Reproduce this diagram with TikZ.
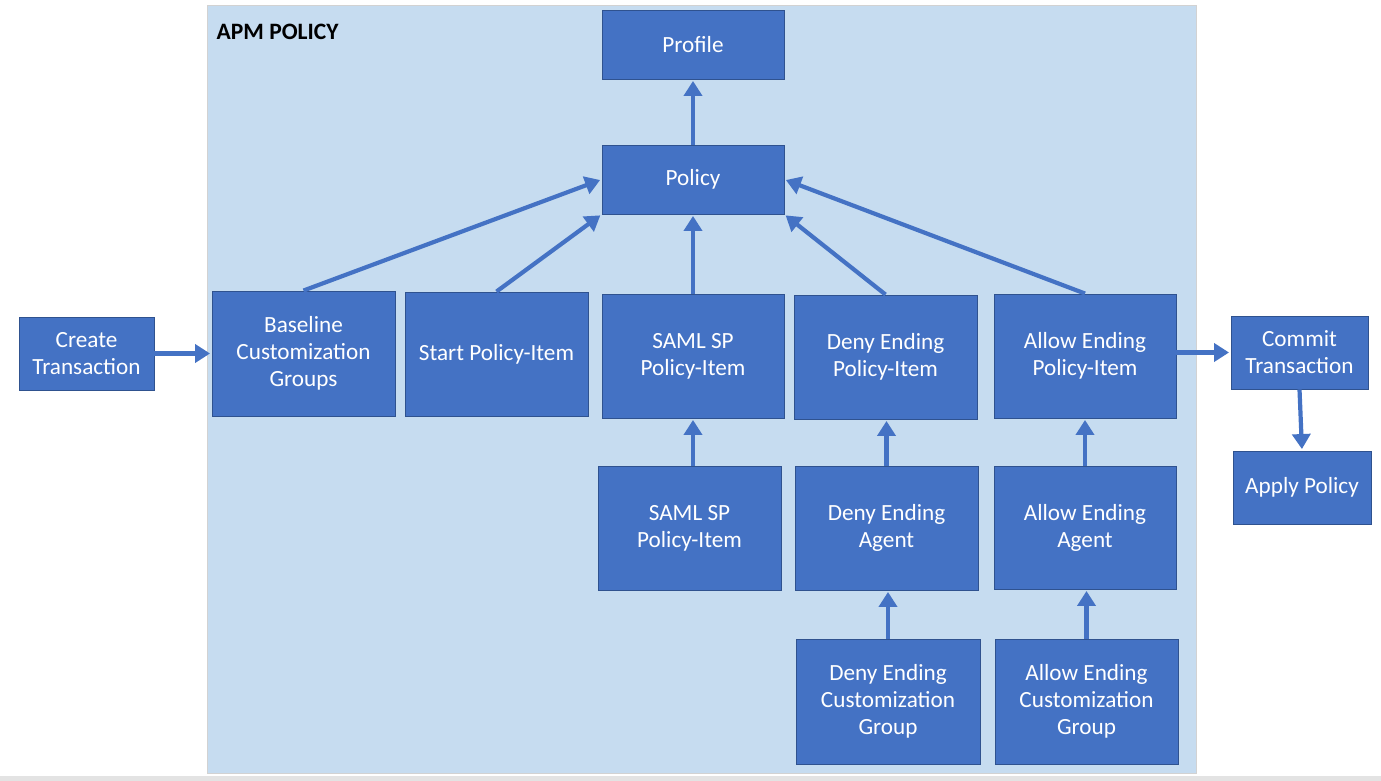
\documentclass[tikz,border=0pt]{standalone}
\usepackage{fontspec}
\setmainfont{Carlito}
\usetikzlibrary{arrows.meta}
\definecolor{boxfill}{HTML}{4472C4}
\definecolor{boxline}{HTML}{2F528F}
\definecolor{panel}{HTML}{C6DCF0}
\definecolor{panelline}{HTML}{D2D2D2}
\definecolor{strip}{HTML}{E3E3E3}
\tikzset{
  box/.style={draw=boxline, line width=0.9pt, fill=boxfill, text=white, align=center,
    font=\fontsize{23.2}{27}\selectfont, inner sep=0pt},
  arr/.style={draw=boxfill, line width=4.2pt,
    -{Triangle[width=18pt,length=15pt]}, shorten >=1.5pt},
}
\begin{document}
\begin{tikzpicture}[x=1pt,y=-1pt]
\useasboundingbox (0,0) rectangle (1381,781);
\fill[white] (0,0) rectangle (1381,781);
\fill[strip] (0,776) rectangle (1381,781);
\draw[panelline, fill=panel, line width=0.8pt] (207,5) rectangle (1196,773);
\node[anchor=west, font=\fontsize{23.5}{27}\selectfont\bfseries, text=black, inner sep=0pt] (title) at (216.5,32) {APM POLICY};

\node[box, minimum width=182pt, minimum height=69pt] (profile) at (693,44.5) {Profile};
\node[box, minimum width=182pt, minimum height=69pt] (policy) at (693,179.5) {Policy};
\node[box, minimum width=183pt, minimum height=125pt] (baseline) at (303.5,353.5) {Baseline\\Customization\\Groups};
\node[box, minimum width=183pt, minimum height=124pt] (start) at (496.5,354) {Start Policy-Item};
\node[box, minimum width=182pt, minimum height=124pt] (saml1) at (693,356) {SAML SP\\Policy-Item};
\node[box, minimum width=183pt, minimum height=124pt] (denypi) at (885.5,357) {Deny Ending\\Policy-Item};
\node[box, minimum width=182pt, minimum height=124pt] (allowpi) at (1085,356) {Allow Ending\\Policy-Item};
\node[box, minimum width=135pt, minimum height=73pt] (create) at (86.5,353.5) {Create\\Transaction};
\node[box, minimum width=137pt, minimum height=73pt] (commit) at (1299.5,352.5) {Commit\\Transaction};
\node[box, minimum width=138pt, minimum height=73pt] (apply) at (1302,487.5) {Apply Policy};
\node[box, minimum width=183pt, minimum height=124pt] (saml2) at (689.5,528) {SAML SP\\Policy-Item};
\node[box, minimum width=183pt, minimum height=124pt] (denyag) at (886.5,528) {Deny Ending\\Agent};
\node[box, minimum width=182pt, minimum height=123pt] (allowag) at (1085,527.5) {Allow Ending\\Agent};
\node[box, minimum width=184pt, minimum height=125pt] (denycg) at (888,701.5) {Deny Ending\\Customization\\Group};
\node[box, minimum width=183pt, minimum height=125pt] (allowcg) at (1086.5,701.5) {Allow Ending\\Customization\\Group};

\draw[arr] (policy.north) -- (profile.south);
\draw[arr] (baseline.north) -- (policy.west);
\draw[arr] (start.north) -- (policy.south west);
\draw[arr] (saml1.north) -- (policy.south);
\draw[arr] (denypi.north) -- (policy.south east);
\draw[arr] (allowpi.north) -- (policy.east);
\draw[arr] (create.east) -- (baseline.west);
\draw[arr] (allowpi.east |- commit.west) -- (commit.west);
\draw[arr] (commit.south) -- (apply.north);
\draw[arr] (saml1.south |- saml2.north) -- (saml1.south);
\draw[arr] (denyag.north) -- (denyag.north |- denypi.south);
\draw[arr] (allowag.north) -- (allowpi.south);
\draw[arr] (denycg.north) -- (denycg.north |- denyag.south);
\draw[arr] (allowcg.north) -- (allowcg.north |- allowag.south);
\end{tikzpicture}
\end{document}
